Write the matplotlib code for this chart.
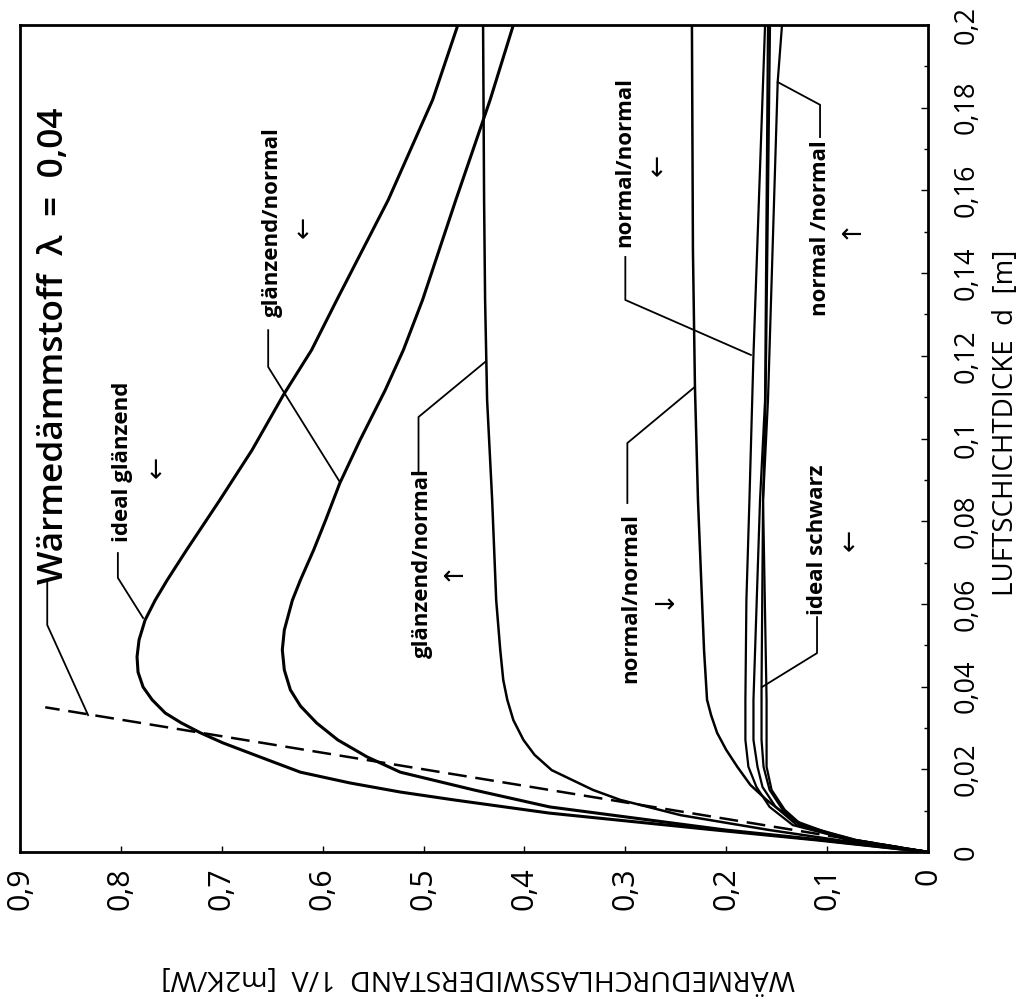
import matplotlib
matplotlib.use('Agg')
import matplotlib.pyplot as plt
from matplotlib.ticker import MultipleLocator, FuncFormatter

plt.rcParams['font.family'] = ['Open Sans', 'DejaVu Sans']

# d = Luftschichtdicke [m], R = Waermedurchlasswiderstand 1/Lambda [m2K/W]
d_ideal_gl = [0, 0.0029, 0.0053, 0.0094, 0.0126, 0.0145, 0.0167, 0.0193, 0.0215, 0.0239, 0.0264,
              0.0288, 0.0312, 0.0336, 0.0368, 0.0399, 0.0435, 0.0472, 0.0513, 0.0561, 0.0609,
              0.0658, 0.0730, 0.0851, 0.0972, 0.1105, 0.1214, 0.1335, 0.1577, 0.1819, 0.2]
R_ideal_gl = [0, 0.110, 0.210, 0.375, 0.470, 0.523, 0.573, 0.622, 0.646, 0.672, 0.699,
              0.721, 0.740, 0.756, 0.769, 0.778, 0.783, 0.784, 0.782, 0.776, 0.766,
              0.754, 0.735, 0.702, 0.670, 0.639, 0.611, 0.586, 0.535, 0.491, 0.466]

d_gl_no_1 = [0, 0.0029, 0.0053, 0.0109, 0.0150, 0.0193, 0.0230, 0.0271, 0.0312, 0.0353, 0.0392,
             0.0440, 0.0489, 0.0537, 0.0609, 0.0658, 0.0730, 0.0803, 0.0892, 0.0996, 0.1117,
             0.1214, 0.1335, 0.1577, 0.1819, 0.2]
R_gl_no_1 = [0, 0.105, 0.200, 0.375, 0.450, 0.523, 0.556, 0.585, 0.606, 0.622, 0.632,
             0.638, 0.640, 0.638, 0.630, 0.622, 0.609, 0.597, 0.583, 0.563, 0.538,
             0.520, 0.501, 0.468, 0.434, 0.411]

d_gl_no_2 = [0, 0.0029, 0.0053, 0.0089, 0.0126, 0.0150, 0.0198, 0.0235, 0.0271, 0.0319, 0.0368,
             0.0416, 0.0489, 0.0609, 0.0851, 0.1093, 0.1335, 0.1577, 0.2]
R_gl_no_2 = [0, 0.090, 0.157, 0.245, 0.305, 0.332, 0.373, 0.390, 0.401, 0.411, 0.417,
             0.421, 0.424, 0.428, 0.432, 0.437, 0.439, 0.440, 0.441]

d_no_no_1 = [0, 0.0029, 0.0077, 0.0126, 0.0162, 0.0206, 0.0247, 0.0288, 0.0331, 0.0368,
             0.0489, 0.0609, 0.0851, 0.1125, 0.1456, 0.2]
R_no_no_1 = [0, 0.080, 0.134, 0.160, 0.176, 0.189, 0.200, 0.209, 0.215, 0.219,
             0.222, 0.224, 0.228, 0.231, 0.233, 0.234]

d_no_no_2 = [0, 0.0029, 0.0065, 0.0109, 0.0157, 0.0206, 0.0271, 0.0368, 0.0609, 0.0851, 0.1202, 0.2]
R_no_no_2 = [0, 0.077, 0.134, 0.157, 0.170, 0.178, 0.181, 0.181, 0.180, 0.177, 0.173, 0.1615]

d_no_no_3 = [0, 0.0029, 0.0065, 0.0109, 0.0157, 0.0206, 0.0271, 0.0368, 0.0851, 0.1093, 0.2]
R_no_no_3 = [0, 0.075, 0.130, 0.151, 0.164, 0.169, 0.173, 0.173, 0.1665, 0.1615, 0.1586]

d_schwarz = [0, 0.0029, 0.0065, 0.0102, 0.0150, 0.0206, 0.0271, 0.0399, 0.0851, 0.1093, 0.2]
R_schwarz = [0, 0.072, 0.127, 0.144, 0.157, 0.163, 0.165, 0.165, 0.1635, 0.161, 0.1566]

d_no_no_4 = [0, 0.0029, 0.0065, 0.0102, 0.0150, 0.0206, 0.0271, 0.0368, 0.0851, 0.1093, 0.1862, 0.2]
R_no_no_4 = [0, 0.071, 0.125, 0.142, 0.155, 0.160, 0.160, 0.160, 0.1635, 0.1586, 0.149, 0.1447]

# Waermedaemmstoff lambda = 0,04 (dashed)
d_daemm = [0, 0.035]
R_daemm = [0, 0.875]

R_ticks = [0, 0.1, 0.2, 0.3, 0.4, 0.5, 0.6, 0.7, 0.8, 0.9]
d_ticks = [0, 0.02, 0.04, 0.06, 0.08, 0.1, 0.12, 0.14, 0.16, 0.18, 0.2]

fig = plt.figure(figsize=(10.21, 10.08), dpi=100)
ax = fig.add_axes([20/1021, 156/1008, 908/1021, 827/1008])

# chart is printed turned: R runs along the bottom (decreasing to the right), d up the right side
curves = [(R_ideal_gl, d_ideal_gl, 2.2), (R_gl_no_1, d_gl_no_1, 2.2),
          (R_gl_no_2, d_gl_no_2, 1.8), (R_no_no_1, d_no_no_1, 1.8),
          (R_no_no_2, d_no_no_2, 1.6), (R_no_no_3, d_no_no_3, 1.6),
          (R_schwarz, d_schwarz, 1.6), (R_no_no_4, d_no_no_4, 1.6)]
for R, d, lw in curves:
    ax.plot(R, d, color='black', lw=lw, solid_joinstyle='round')
ax.plot(R_daemm, d_daemm, color='black', lw=1.8, ls=(0, (7.5, 3.5)))

ax.set_xlim(0.9, 0)
ax.set_ylim(0, 0.2)
ax.yaxis.tick_right()
ax.set_xticks(R_ticks)
ax.set_yticks(d_ticks)
ax.yaxis.set_minor_locator(MultipleLocator(0.01))
comma = FuncFormatter(lambda v, p: ('%g' % round(v, 3)).replace('.', ','))
ax.xaxis.set_major_formatter(comma)
ax.yaxis.set_major_formatter(comma)
ax.tick_params(axis='x', direction='in', length=4, width=1, pad=11, labelsize=22, labelrotation=90)
ax.tick_params(axis='y', direction='in', length=5, width=1, pad=18, labelsize=19.5, labelrotation=90)
ax.tick_params(axis='y', which='minor', direction='in', length=3, width=1)
for lab in ax.get_yticklabels():
    lab.set_va('center')
for s in ax.spines.values():
    s.set_linewidth(2)

fig.text(478/1021, 1 - 978/1008, 'WÄRMEDURCHLASSWIDERSTAND  1/Λ  [m2K/W]',
         rotation=180, ha='center', va='center', fontsize=20.5)
fig.text(1006/1021, 1 - 423/1008, 'LUFTSCHICHTDICKE  d  [m]',
         rotation=90, ha='center', va='center', fontsize=20)

ax.text(0.866, 0.1224, 'Wärmedämmstoff  λ  =  0,04', rotation=90,
        ha='center', va='center', fontsize=25.5, fontweight='semibold')
ax.plot([0.873, 0.873, 0.8325], [0.0658, 0.0549, 0.0331], color='black', lw=1.3)

# (text, text pos, arrow, arrow pos, leader line)
labels = [
    ('ideal glänzend', (0.798, 0.0943), '←', (0.764, 0.0931),
     [(0.803, 0.0723), (0.803, 0.0663), (0.778, 0.0566)]),
    ('glänzend/normal', (0.650, 0.1524), '←', (0.618, 0.1511),
     [(0.654, 0.1262), (0.654, 0.1173), (0.583, 0.0895)]),
    ('glänzend/normal', (0.501, 0.0699), '↑', (0.472, 0.0682),
     [(0.505, 0.0919), (0.505, 0.1052), (0.439, 0.1185)]),
    ('normal/normal', (0.295, 0.0614), '↓', (0.263, 0.0614),
     [(0.298, 0.0844), (0.298, 0.0989), (0.231, 0.1125)]),
    ('normal/normal', (0.301, 0.1669), '←', (0.267, 0.1661),
     [(0.300, 0.1439), (0.300, 0.1335), (0.1755, 0.1202)]),
    ('ideal schwarz', (0.110, 0.0755), '←', (0.077, 0.0755),
     [(0.110, 0.0568), (0.110, 0.0481), (0.1645, 0.0399)]),
    ('normal /normal', (0.107, 0.1509), '↑', (0.078, 0.1509),
     [(0.107, 0.1729), (0.107, 0.1807), (0.149, 0.1862)]),
]
for txt, tpos, arr, apos, lead in labels:
    ax.text(tpos[0], tpos[1], txt, rotation=90, ha='center', va='center',
            fontsize=16, fontweight='bold')
    ax.text(apos[0], apos[1], arr, rotation=90, ha='center', va='center',
            fontsize=19, family=['DejaVu Sans'])
    ax.plot([p[0] for p in lead], [p[1] for p in lead], color='black', lw=1.3)

fig.savefig('out.png', dpi=100)
